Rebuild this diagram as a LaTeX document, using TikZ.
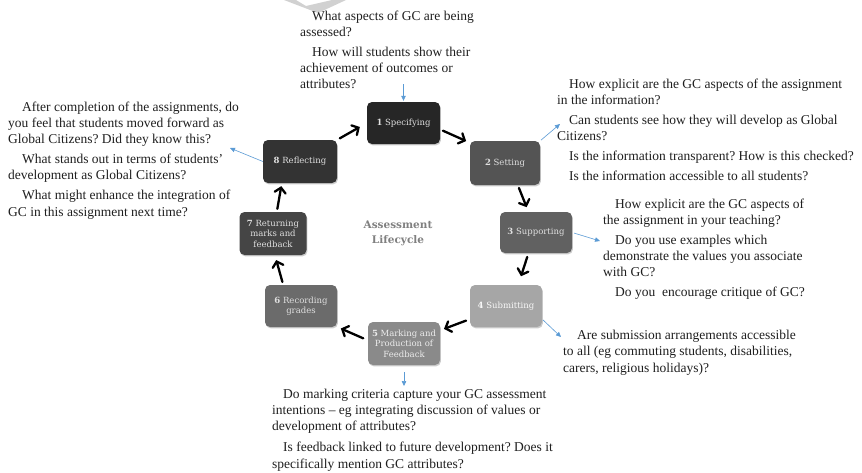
\documentclass[tikz,border=0pt]{standalone}
\usepackage{fontspec}
\setmainfont{Liberation Serif}
\newfontfamily\boxfont{DejaVu Serif}
\usetikzlibrary{arrows.meta,shadows}
\definecolor{qblue}{HTML}{5B9BD5}
\frenchspacing
\begin{document}
\begin{tikzpicture}[x=1pt,y=-1pt,
  stagebox/.style={rounded corners=5pt, minimum width=72pt, minimum height=42pt,
    inner sep=2pt, align=center, font=\boxfont\fontsize{8.5}{10.5}\selectfont,
    text=black!12, drop shadow={shadow xshift=0.9pt, shadow yshift=-1.4pt, opacity=0.4}},
  qtext/.style={anchor=north west, inner sep=0pt, align=left, text=black!88,
    font=\fontsize{13.5}{16.3}\selectfont},
  cyclearrow/.style={line width=2.3pt, line cap=round, black,
    -{Straight Barb[length=5pt,width=11pt,line cap=round]}},
  bluearrow/.style={qblue, line width=0.6pt, -{Triangle[length=5pt,width=4.5pt]}},
  centertitle/.style={font=\boxfont\bfseries\fontsize{10.5}{15}\selectfont, text=black!50, align=center}
]
\useasboundingbox (0,0) rectangle (862,472);
\fill[white] (0,0) rectangle (862,472);
% faint watermark fragment
\fill[black!18] (284,0) -- (296,0) -- (306,6) -- (332,0) -- (346,0) -- (318,13) -- cycle;

% stage boxes
\node[stagebox, fill=black!85, minimum width=73pt] (s1) at (403.5,123) {\textbf{1} Specifying};
\node[stagebox, fill=black!67, minimum width=70pt, minimum height=44pt] (s2) at (505,163) {\textbf{2} Setting};
\node[stagebox, fill=black!62, minimum height=41pt] (s3) at (536,232.5) {\textbf{3} Supporting};
\node[stagebox, fill=black!35, text=black!3] (s4) at (506,306) {\textbf{4} Submitting};
\node[stagebox, fill=black!46, minimum height=43pt, text=black!7] (s5) at (404,343.5) {\textbf{5} Marking and\\Production of\\Feedback};
\node[stagebox, fill=black!58] (s6) at (301,306) {\textbf{6} Recording\\grades};
\node[stagebox, fill=black!73, minimum width=67pt, minimum height=43pt] (s7) at (273,233.5) {\textbf{7} Returning\\marks and\\feedback};
\node[stagebox, fill=black!80, minimum width=74pt, minimum height=43pt] (s8) at (300,161.5) {\textbf{8} Reflecting};

\node[centertitle] (title) at (398,233.5) {Assessment\\Lifecycle};

% cycle arrows
\draw[cyclearrow, shorten <=3pt, shorten >=8pt] (s8.north east) -- (s1.west);
\draw[cyclearrow, shorten <=3pt, shorten >=4pt] (s1.-10) -- (s2.150);
\draw[cyclearrow, shorten <=3pt, shorten >=5pt] (s2.-60) -- (s3.110);
\draw[cyclearrow, shorten <=4pt, shorten >=9pt] (s3.-110) -- (s4.60);
\draw[cyclearrow, shorten <=4pt, shorten >=4pt] (s4.200) -- (s5.20);
\draw[cyclearrow, shorten <=5pt, shorten >=4pt] (s5.175) -- (s6.-30);
\draw[cyclearrow, shorten <=3pt, shorten >=5pt] (s6.130) -- (s7.-85);
\draw[cyclearrow, shorten <=3pt, shorten >=3pt] (s7.80) -- (s8.-130);

% question texts
\node[qtext] (qtop) at (300,10.5) {\hspace*{12pt}What aspects of GC are being\\assessed?\\[3.5pt]\hspace*{12pt}How will students show their\\achievement of outcomes or\\attributes?};
\node[qtext] (q2) at (557,78.5) {\hspace*{12pt}How explicit are the GC aspects of the assignment\\in the information?\\[3.5pt]\hspace*{12pt}Can students see how they will develop as Global\\Citizens?\\[3.5pt]\hspace*{12pt}Is the information transparent? How is this checked?\\[3.5pt]\hspace*{12pt}Is the information accessible to all students?};
\node[qtext] (q3) at (603,198.5) {\hspace*{12pt}How explicit are the GC aspects of\\the assignment in your teaching?\\[3.5pt]\hspace*{12pt}Do you use examples which\\demonstrate the values you associate\\with GC?\\[3.5pt]\hspace*{12pt}Do you\ \ encourage critique of GC?};
\node[qtext] (q4) at (563,330) {\hspace*{14pt}Are submission arrangements accessible\\to all (eg commuting students, disabilities,\\carers, religious holidays)?};
\node[qtext] (q5) at (272,388.5) {\hspace*{11pt}Do marking criteria capture your GC assessment\\intentions – eg integrating discussion of values or\\development of attributes?\\[5pt]\hspace*{11pt}Is feedback linked to future development? Does it\\specifically mention GC attributes?};
\node[qtext] (q8) at (8,101.5) {\hspace*{14pt}After completion of the assignments, do\\you feel that students moved forward as\\Global Citizens? Did they know this?\\[3.5pt]\hspace*{14pt}What stands out in terms of students’\\development as Global Citizens?\\[3.5pt]\hspace*{14pt}What might enhance the integration of\\GC in this assignment next time?};

% blue pointer arrows
\coordinate (a1) at (403.5,84);
\coordinate (a2) at (560,124);
\coordinate (a3) at (600,241);
\coordinate (a4) at (561,337);
\coordinate (a5) at (404,386);
\coordinate (a8) at (230,148);
\draw[bluearrow, shorten >=1pt] (a1) -- (s1.north);
\draw[bluearrow, shorten <=1pt] (s2.north east) -- (a2);
\draw[bluearrow, shorten <=2pt] (s3.east) -- (a3);
\draw[bluearrow, shorten <=1pt] (s4.-20) -- (a4);
\draw[bluearrow, shorten <=7pt] (s5.south) -- (a5);
\draw[bluearrow] (s8.west) -- (a8);
\end{tikzpicture}
\end{document}
